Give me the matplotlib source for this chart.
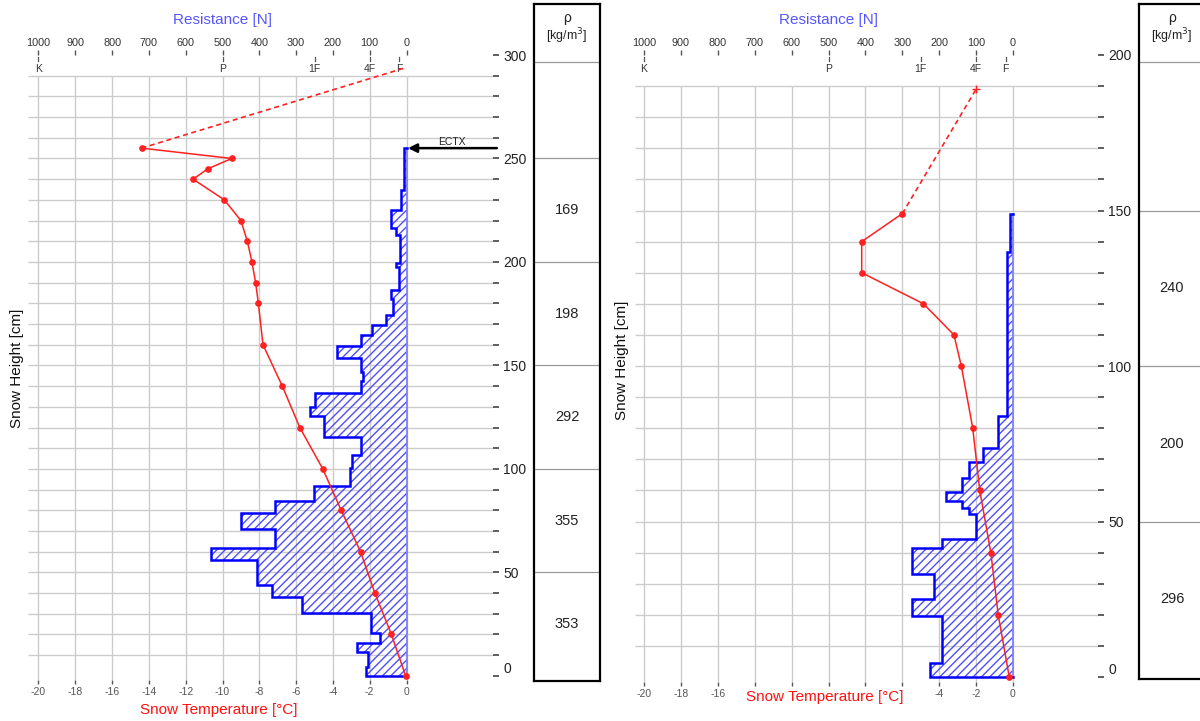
import matplotlib
matplotlib.use('Agg')
import matplotlib.pyplot as plt
import numpy as np
from matplotlib.transforms import blended_transform_factory

plt.rcParams['font.family'] = ['Liberation Sans', 'DejaVu Sans']
plt.rcParams['hatch.linewidth'] = 1.0
plt.rcParams['axes.unicode_minus'] = False

# ---------------- data: left profile ----------------
L_temp_h = [255, 250, 245, 240, 230, 220, 210, 200, 190, 180, 160, 140, 120, 100, 80, 60, 40, 20, 0]
L_temp = [-14.4, -9.5, -10.8, -11.6, -9.9, -9.0, -8.65, -8.4, -8.2, -8.05, -7.8, -6.75, -5.8,
          -4.55, -3.55, -2.5, -1.72, -0.82, -0.05]
L_air = (0.0, 294)
L_res_h = [255, 235, 225, 216.5, 213, 199.5, 197.5, 186.5, 182, 174.5, 169.5, 164.5, 159.5, 153.5,
           147, 142.5, 136.5, 130, 125.5, 115.5, 106.5, 100.5, 91.5, 84.5, 78.5, 71, 62, 56, 44, 38,
           30.5, 20.5, 16, 11.5, 4.5, 0]
L_res = [6, 16, 43, 29, 18, 28, 20, 42, 36, 57, 95, 124, 190, 124, 118, 124, 250, 263, 223, 124,
         149, 153, 252, 356, 449, 356, 530, 406, 366, 283, 96, 73, 135, 104, 110]
L_dens_edges = [250, 200, 150, 100, 50, 0]
L_dens = [169, 198, 292, 355, 353]
L_ectx_h = 255
L_hmax = 300

# ---------------- data: right profile ----------------
R_temp_h = [149, 140, 130, 120, 110, 100, 80, 60, 40, 20, 0]
R_temp = [-6.0, -8.2, -8.2, -4.85, -3.2, -2.8, -2.18, -1.8, -1.2, -0.8, -0.2]
R_air = (-2.0, 189)
R_res_h = [149, 136.5, 84, 73.5, 69, 64, 59.5, 56.5, 54.5, 52.5, 44.5, 41.5, 33, 25, 19.5, 4.5, 0]
R_res = [8, 17, 41, 80, 118, 139, 182, 139, 118, 100, 193, 275, 214, 275, 193, 225]
R_dens_edges = [150, 100, 50, 0]
R_dens = [240, 200, 296]
R_hmax = 200

# ---------------- axis labels ----------------
temp_ticks = list(range(-20, 1, 2))
res_ticks = list(range(0, 1001, 100))
hard_labels = ['K', 'P', '1F', '4F', 'F']
hard_vals = [1000, 500, 250, 100, 20]
L_temp_labels = [str(t) for t in temp_ticks]
R_temp_labels = [str(t) if t not in (-14, -12, -10, -8, -6) else '' for t in temp_ticks]

W, H = 1200, 721
fig = plt.figure(figsize=(12, 7.21), dpi=100)
fig.patch.set_facecolor('white')


def px_axes(x0, x1, y0, y1):
    return fig.add_axes([x0 / W, (H - y1) / H, (x1 - x0) / W, (y1 - y0) / H])


def draw_panel(ax_px, box_px, xlim, ylim, hmax, temp_h, temp, air, res_h, res,
               dens_edges, dens, xlabels, tlabel_off, ylabel_px, ectx_h=None, air_marker=True):
    ax = px_axes(*ax_px)
    axt = ax.twiny()
    ax.set_zorder(3)
    axt.set_zorder(2)
    ax.patch.set_visible(False)
    axt.patch.set_visible(False)
    ax.set_xlim(xlim)
    ax.set_ylim(ylim)
    axt.set_xlim(-50 * xlim[0], -50 * xlim[1])
    for a in (ax, axt):
        for s in a.spines.values():
            s.set_visible(False)

    gc = '#cccccc'
    grid_h = np.arange(10, hmax, 10)
    axt.hlines(grid_h, axt.get_xlim()[0], axt.get_xlim()[1], color=gc, lw=1.0, zorder=0)
    axt.vlines(res_ticks, ylim[0], grid_h[-1], color=gc, lw=1.0, zorder=0)

    # resistance profile
    rh = np.asarray(res_h, float)
    rv = np.asarray(res, float)
    ys = np.repeat(rh, 2)[1:-1]
    xs = np.repeat(rv, 2)
    xpoly = np.concatenate([[0], xs, [0]])
    ypoly = np.concatenate([[rh[0]], ys, [0]])
    axt.fill(xpoly, ypoly, facecolor='none', edgecolor='#4f4ff5', hatch='////', linewidth=0,
             zorder=1)
    axt.plot([0, 0], [0, rh[0]], color='#8080ff', lw=1.3, zorder=2)
    axt.plot(xpoly, ypoly, color='#0000ff', lw=1.8, solid_joinstyle='miter', zorder=3)

    # temperature profile
    ax.plot([temp[0], air[0]], [temp_h[0], air[1]], color='#ff2020', lw=1.2,
            ls=(0, (3, 2.2)), zorder=4)
    ax.plot(temp, temp_h, color='#ff2020', lw=1.1, marker='o', ms=3.8, zorder=5)
    if air_marker:
        ax.plot([air[0]], [air[1]], color='#ff2020', marker='+', ms=6, mew=1.0, ls='none',
                zorder=5)

    # ticks: right height axis
    ax.yaxis.tick_right()
    major = np.arange(0, hmax + 1, 50)
    ax.set_yticks(major, labels=[str(v) for v in major])
    ax.set_yticks(np.arange(0, hmax + 1, 10), minor=True)
    ax.tick_params(axis='y', which='both', length=4.5, width=1.1, color='#333333',
                   labelsize=10, pad=3, labelcolor='#222222')
    for lbl in ax.get_yticklabels():
        if lbl.get_text() == '0':
            lbl.set_verticalalignment('bottom')

    # bottom temperature axis
    ax.set_xticks(temp_ticks, labels=xlabels)
    ax.tick_params(axis='x', which='both', length=3, width=1.0, color='#555555',
                   labelsize=7.5, labelcolor='#555555', pad=2)

    # top resistance axis
    axt.set_xticks(res_ticks, labels=[str(v) for v in res_ticks])
    axt.tick_params(axis='x', length=3.5, width=1.0, color='#555555', labelsize=7.8,
                    labelcolor='#333333', pad=1.5)
    axh = ax_px[3] - ax_px[2]
    xt = axt.get_xaxis_transform()
    for lab, v in zip(hard_labels, hard_vals):
        axt.plot([v, v], [1 - 2 / axh, 1 - 6 / axh], transform=xt, color='#555555', lw=0.9,
                 clip_on=False)
        axt.annotate(lab, xy=(v, 1), xycoords=('data', 'axes fraction'), xytext=(0, -9.8),
                     textcoords='offset points', ha='center', va='center', fontsize=7.5,
                     color='#333333')

    axt.annotate('Resistance [N]', xy=(500, 1), xycoords=('data', 'axes fraction'),
                 xytext=(0, 25.5), textcoords='offset points', ha='center', va='center',
                 fontsize=11, color='#5555ff')
    ax.annotate('Snow Temperature [°C]', xy=(-10.2, 0), xycoords=('data', 'axes fraction'),
                xytext=(0, -tlabel_off), textcoords='offset points', ha='center', va='center',
                fontsize=11, color='#ff1010')
    fig.text(ylabel_px[0] / W, 1 - ylabel_px[1] / H, 'Snow Height [cm]', rotation=90,
             ha='center', va='center', fontsize=11, color='#111111')

    if ectx_h is not None:
        ax.annotate('', xy=(0.08, ectx_h), xytext=(4.91, ectx_h),
                    arrowprops=dict(arrowstyle='-|>', color='black', lw=1.8, mutation_scale=13,
                                    shrinkA=0, shrinkB=0), annotation_clip=False, zorder=6)
        ax.annotate('ECTX', xy=(2.47, ectx_h), xytext=(0, 4.5), textcoords='offset points',
                    ha='center', va='center', fontsize=7.5, color='#222222', zorder=6)

    # density column
    box = px_axes(*box_px)
    box.set_xlim(0, 1)
    box.set_ylim(0, 1)
    box.set_xticks([])
    box.set_yticks([])
    for s in box.spines.values():
        s.set_linewidth(1.6)
        s.set_color('black')
    bh = box_px[3] - box_px[2]
    tr = blended_transform_factory(box.transAxes, ax.transData)
    for e in dens_edges[:-1]:
        box.plot([0, 1], [e, e], transform=tr, color='#999999', lw=0.9)
    for top, bot, d in zip(dens_edges[:-1], dens_edges[1:], dens):
        box.text(0.5, (top + bot) / 2, str(d), transform=tr, ha='center', va='center',
                 fontsize=10.5, color='#222222')
    hy = (box_px[3] - 62) / bh
    box.axhline(hy, color='#999999', lw=0.9)
    box.text(0.5, (box_px[3] - 18) / bh, 'ρ', ha='center', va='center', fontsize=10,
             color='#222222')
    box.text(0.5, (box_px[3] - 36) / bh, '[kg/m$^3$]', ha='center', va='center', fontsize=9,
             color='#222222')
    return ax


draw_panel((28, 493, 55, 680), (534, 600, 4, 681), (-20.57, 4.70), (-2, L_hmax), L_hmax,
           L_temp_h, L_temp, L_air, L_res_h, L_res, L_dens_edges, L_dens,
           L_temp_labels, 21.5, (17, 368), ectx_h=L_ectx_h, air_marker=False)
draw_panel((635, 1098, 55, 682), (1139, 1205, 4, 679), (-20.49, 4.61), (-1.6, R_hmax), R_hmax,
           R_temp_h, R_temp, R_air, R_res_h, R_res, R_dens_edges, R_dens,
           R_temp_labels, 11, (622, 360))

fig.savefig('out.png', dpi=100, facecolor='white')
